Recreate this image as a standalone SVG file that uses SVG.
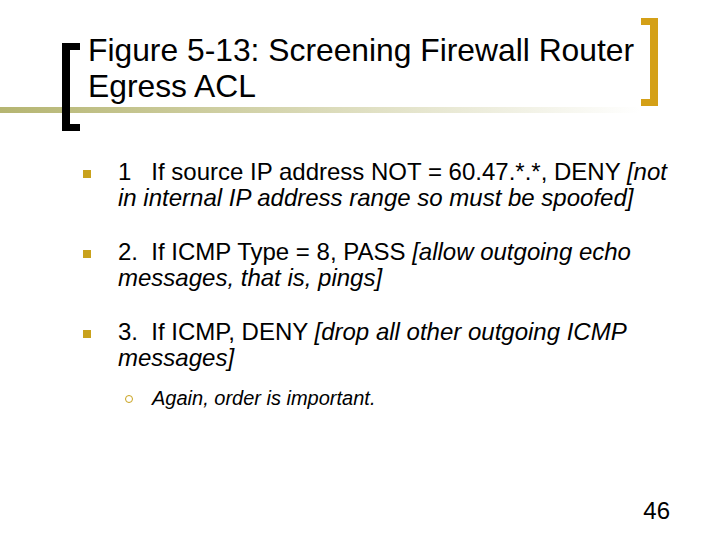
<svg xmlns="http://www.w3.org/2000/svg" width="720" height="540" viewBox="0 0 720 540">
<defs>
<linearGradient id="g" x1="0" x2="1" y1="0" y2="0">
<stop offset="0" stop-color="#b5b571"/><stop offset="1" stop-color="#ffffff"/>
</linearGradient>
<style>
text{font-family:"Liberation Sans",Arial,sans-serif;fill:#000;white-space:pre}
.t{font-size:31.8px}
.b{font-size:24px}
.s{font-size:20px;font-style:italic}
.i{font-style:italic}
.bul{fill:#c9a21c}
</style>
</defs>
<rect width="720" height="540" fill="#fff"/>
<rect x="0" y="107" width="640" height="6" fill="url(#g)"/>
<g id="left-bracket" fill="#000">
<rect x="62" y="43" width="8" height="88"/><rect x="62" y="43" width="18" height="7"/><rect x="62" y="124" width="18" height="7"/>
</g>
<g id="right-bracket" fill="#d4a017">
<rect x="650" y="18" width="8" height="88"/><rect x="641" y="18" width="17" height="7"/><rect x="641" y="99" width="17" height="7"/>
</g>
<g id="title">
<text class="t" x="88" y="61">Figure 5-13: Screening Firewall Router</text>
<text class="t" x="88" y="97">Egress ACL</text>
</g>
<g id="bullets">
<rect class="bul" x="83" y="170" width="8" height="8"/>
<rect class="bul" x="83" y="250" width="8" height="8"/>
<rect class="bul" x="83" y="330" width="8" height="8"/>
<circle cx="129" cy="399" r="3.5" fill="none" stroke="#c9a21c" stroke-width="1"/>
<text class="b" x="118" y="180" xml:space="preserve">1   If source IP address NOT = 60.47.*.*, DENY <tspan class="i">[not</tspan></text>
<text class="b i" x="118" y="206">in internal IP address range so must be spoofed]</text>
<text class="b" x="118" y="260" xml:space="preserve">2.  If ICMP Type = 8, PASS <tspan class="i">[allow outgoing echo</tspan></text>
<text class="b i" x="118" y="286">messages, that is, pings]</text>
<text class="b" x="118" y="340" xml:space="preserve">3.  If ICMP, DENY <tspan class="i">[drop all other outgoing ICMP</tspan></text>
<text class="b i" x="118" y="366">messages]</text>
<text class="s" x="152" y="405">Again, order is important.</text>
</g>
<text class="b" x="670" y="519" text-anchor="end">46</text>
</svg>
